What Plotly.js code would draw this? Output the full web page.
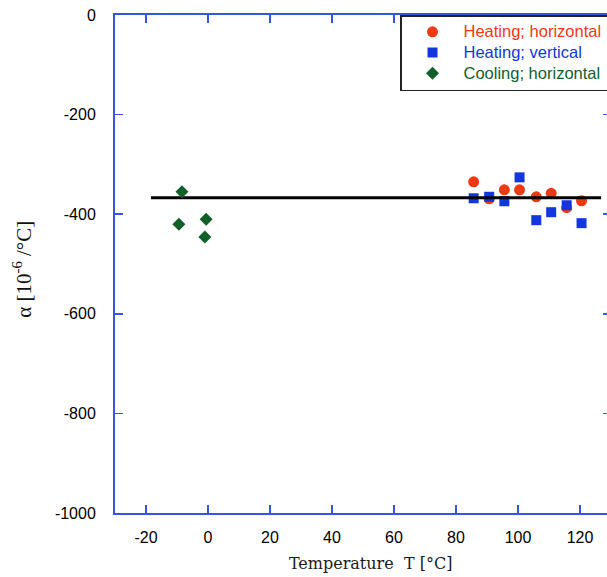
<!DOCTYPE html>
<html>
<head>
<meta charset="utf-8">
<script src="https://cdn.plot.ly/plotly-3.0.1.min.js"></script>
<style>
html, body { margin: 0; padding: 0; overflow: hidden; background: #fff; }
#chart { width: 612px; height: 577px; }
</style>
</head>
<body>
<div id="chart"></div>
<script>
// Heating; horizontal
const heatHorizT = [85.7, 90.7, 95.6, 100.5, 105.9, 110.7, 115.7, 120.5];
const heatHorizA = [-335, -369, -351, -351, -365, -358, -387, -373];
// Heating; vertical
const heatVertT = [85.7, 90.7, 95.6, 100.5, 105.9, 110.7, 115.7, 120.5];
const heatVertA = [-368, -365, -374, -326, -412, -396, -382, -418];
// Cooling; horizontal
const coolHorizT = [-8.4, -9.4, -0.6, -1.0];
const coolHorizA = [-355, -420, -410, -446];
// mean line
const fitT = [-18.4, 126.8];
const fitA = [-367, -367];

const xTicks = [-20, 0, 20, 40, 60, 80, 100, 120];
const yTicks = [-1000, -800, -600, -400, -200, 0];

const names = ['Heating; horizontal', 'Heating; vertical', 'Cooling; horizontal'];
const colors = ['#ee3a12', '#1137dd', '#11602a'];

function legendName(i) {
  return '<span style="color:' + colors[i] + ';font-size:16.5px">' + names[i] + '</span>';
}

const traces = [
  { x: heatHorizT, y: heatHorizA, type: 'scatter', mode: 'markers',
    name: legendName(0),
    marker: { symbol: 'circle', size: 11, color: colors[0] } },
  { x: heatVertT, y: heatVertA, type: 'scatter', mode: 'markers',
    name: legendName(1),
    marker: { symbol: 'square', size: 10, color: colors[1] } },
  { x: fitT, y: fitA, type: 'scatter', mode: 'lines', showlegend: false,
    line: { color: '#000', width: 3 } },
  { x: coolHorizT, y: coolHorizA, type: 'scatter', mode: 'markers',
    name: legendName(2),
    marker: { symbol: 'diamond', size: 10, color: colors[2] } }
];

const axisColor = '#3356e8';
const layout = {
  width: 612, height: 577,
  margin: { l: 115, r: 1, t: 15, b: 64 },
  paper_bgcolor: '#fff', plot_bgcolor: '#fff',
  showlegend: true,
  legend: {
    x: 0.5746, y: 1, xanchor: 'left', yanchor: 'top',
    bgcolor: '#fff', bordercolor: '#222', borderwidth: 1.5,
    font: { family: 'Liberation Sans, Arial, sans-serif', size: 13.6 },
    itemwidth: 52, tracegroupgap: 0
  },
  xaxis: {
    range: [-30, 130], tickvals: xTicks, ticktext: xTicks.map(String),
    showgrid: false, zeroline: false,
    showline: true, linecolor: axisColor, linewidth: 2, mirror: 'ticks',
    ticks: 'inside', ticklen: 8, tickwidth: 1.5, tickcolor: axisColor,
    ticklabelstandoff: 9,
    tickfont: { family: 'Liberation Sans, Arial, sans-serif', size: 16, color: '#000' },
    title: { text: '<span style="color:#ffffff">...</span>Temperature  T [°C]', standoff: 13,
      font: { family: 'DejaVu Serif, serif', size: 16, color: '#1a1a1a' } }
  },
  yaxis: {
    range: [-1000, 0], tickvals: yTicks, ticktext: yTicks.map(String),
    showgrid: false, zeroline: false,
    showline: true, linecolor: axisColor, linewidth: 2, mirror: 'ticks',
    ticks: 'inside', ticklen: 8, tickwidth: 1.5, tickcolor: axisColor,
    ticklabelstandoff: 14,
    tickfont: { family: 'Liberation Sans, Arial, sans-serif', size: 16, color: '#000' },
    title: { text: 'α [10<sup>-6</sup> /°C]<span style="color:#ffffff">..</span>', standoff: 18,
      font: { family: 'Liberation Serif, Times New Roman, serif', size: 21, color: '#111' } }
  }
};

Plotly.newPlot('chart', traces, layout, { displayModeBar: false, staticPlot: true });
</script>
</body>
</html>
